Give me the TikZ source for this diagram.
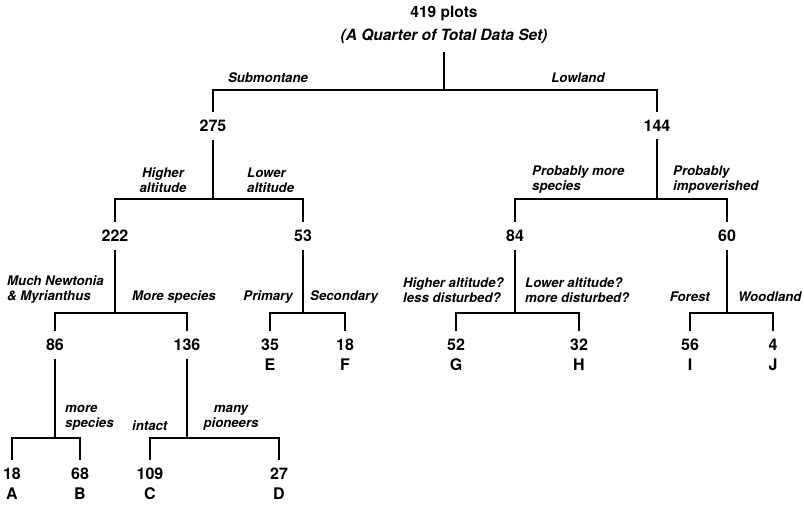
\documentclass[tikz,border=0pt]{standalone}
\usepackage{fontspec}
\setmainfont{TeX Gyre Heros}

\begin{document}
\begin{tikzpicture}[x=1pt,y=-1pt,
    num/.style={font=\fontsize{16}{20}\selectfont\bfseries, inner sep=0pt, outer sep=8pt, align=center, anchor=north},
    lbl/.style={font=\fontsize{13.2}{15}\selectfont\bfseries\itshape, inner sep=0pt},
    branch/.style={line width=1.8pt}]
    \useasboundingbox (0,0) rectangle (804,505);

    % Root: all plots
    \node[font=\fontsize{15.5}{23}\selectfont\bfseries, align=center, inner sep=0pt, outer sep=8pt, anchor=south]
        (n419) at (444,52) {419 plots\\\textit{(A Quarter of Total Data Set)}};
    \coordinate (j419) at (444,90);

    % First split
    \node[num] (n275) at (213,112) {275};
    \node[num] (n144) at (657,112) {144};
    \draw[branch] (n419.south) -- (j419);
    \draw[branch] (n275.north) |- (j419) -| (n144.north);
    \node[lbl] (lSub) at (268,78) {Submontane};
    \node[lbl] (lLow) at (578,78) {Lowland};

    % Second split
    \coordinate (j275) at (213,199);
    \coordinate (j144) at (657,199);
    \node[num] (n222) at (115,222) {222};
    \node[num] (n53) at (303,222) {53};
    \node[num] (n84) at (515,222) {84};
    \node[num] (n60) at (727,222) {60};
    \draw[branch] (n275.south) -- (j275);
    \draw[branch] (n222.north) |- (j275) -| (n53.north);
    \draw[branch] (n144.south) -- (j144);
    \draw[branch] (n84.north) |- (j144) -| (n60.north);
    \node[lbl, align=center] (lHigh) at (163,180) {Higher\\altitude};
    \node[lbl, align=left, anchor=west] (lLower) at (247,180) {Lower\\altitude};
    \node[lbl, align=left, anchor=west] (lRich) at (532,180) {Probably more\\species};
    \node[lbl, align=left, anchor=west] (lPoor) at (673,180) {Probably\\impoverished};

    % Third split
    \coordinate (j222) at (115,313);
    \coordinate (j53) at (303,313);
    \coordinate (j84) at (515,313);
    \coordinate (j60) at (727,313);
    \node[num] (n86) at (55,331) {86};
    \node[num] (n136) at (187,331) {136};
    \node[num] (nE) at (270,331) {35\\E};
    \node[num] (nF) at (345,331) {18\\F};
    \node[num] (nG) at (456,331) {52\\G};
    \node[num] (nH) at (579,331) {32\\H};
    \node[num] (nI) at (690,331) {56\\I};
    \node[num] (nJ) at (773,331) {4\\J};
    \draw[branch] (n222.south) -- (j222);
    \draw[branch] (n86.north) |- (j222) -| (n136.north);
    \draw[branch] (n53.south) -- (j53);
    \draw[branch] (nE.north) |- (j53) -| (nF.north);
    \draw[branch] (n84.south) -- (j84);
    \draw[branch] (nG.north) |- (j84) -| (nH.north);
    \draw[branch] (n60.south) -- (j60);
    \draw[branch] (nI.north) |- (j60) -| (nJ.north);
    \node[lbl, align=left, anchor=west] (lNewt) at (7,290) {Much Newtonia\\\& Myrianthus};
    \node[lbl, anchor=west] (lMore) at (132,297) {More species};
    \node[lbl, anchor=east] (lPrim) at (293,297) {Primary};
    \node[lbl, anchor=west] (lSec) at (310,297) {Secondary};
    \node[lbl, align=left, anchor=west] (lLess) at (403,290) {Higher altitude?\\less disturbed?};
    \node[lbl, align=left, anchor=west] (lDist) at (525,290) {Lower altitude?\\more disturbed?};
    \node[lbl, anchor=east] (lFor) at (710,297) {Forest};
    \node[lbl, anchor=west] (lWood) at (738,297) {Woodland};

    % Fourth split
    \coordinate (j86) at (55,438);
    \coordinate (j136) at (187,438);
    \node[num] (nA) at (12,460) {18\\A};
    \node[num] (nB) at (80,460) {68\\B};
    \node[num] (nC) at (150,460) {109\\C};
    \node[num] (nD) at (279,460) {27\\D};
    \draw[branch] (n86.south) -- (j86);
    \draw[branch] (nA.north) |- (j86) -| (nB.north);
    \draw[branch] (n136.south) -- (j136);
    \draw[branch] (nC.north) |- (j136) -| (nD.north);
    \node[lbl, align=left, anchor=west] (lSpp) at (65,418) {more\\species};
    \node[lbl, anchor=west] (lIntact) at (132,426) {intact};
    \node[lbl, align=center] (lPion) at (231,418) {many\\pioneers};
\end{tikzpicture}
\end{document}
